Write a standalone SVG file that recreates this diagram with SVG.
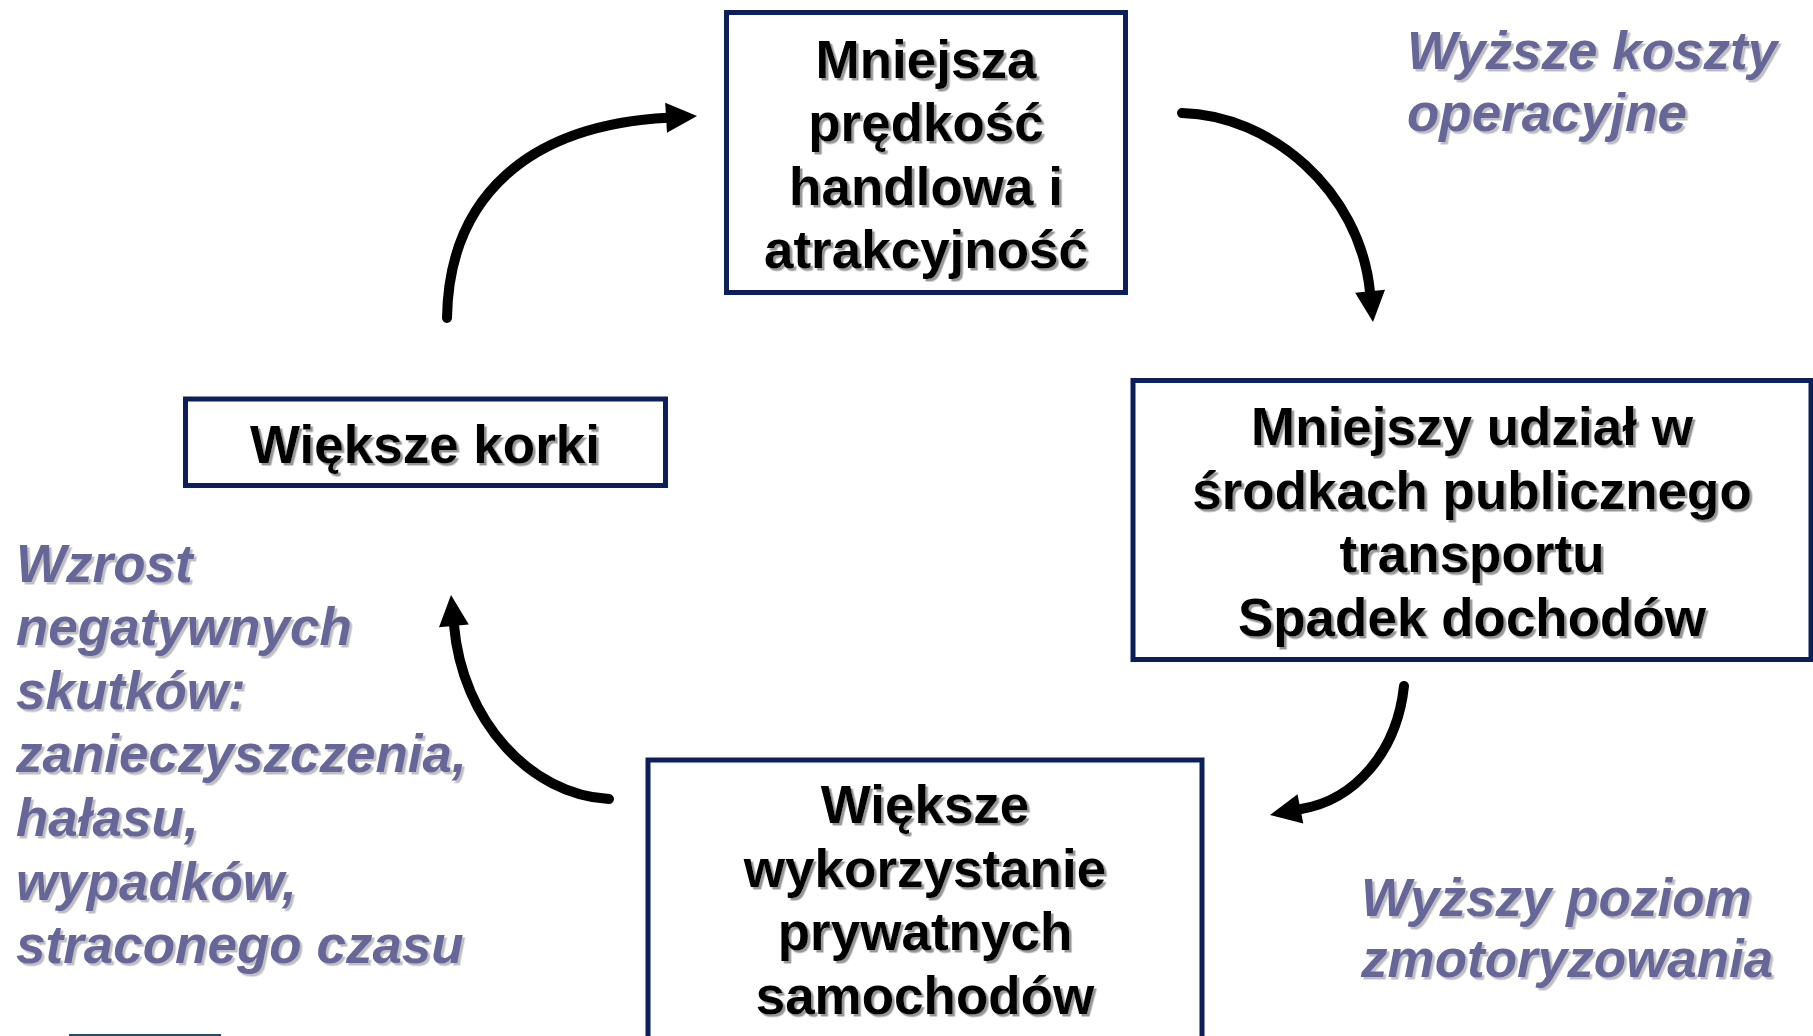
<svg xmlns="http://www.w3.org/2000/svg" width="1813" height="1036" viewBox="0 0 1813 1036">
  <defs>
    <filter id="shB" x="-5%" y="-20%" width="115%" height="150%">
      <feDropShadow dx="2.5" dy="2.5" stdDeviation="0.6" flood-color="#8c8c8c" flood-opacity="0.9"/>
    </filter>
    <filter id="shI" x="-5%" y="-20%" width="115%" height="150%">
      <feDropShadow dx="2.5" dy="2.5" stdDeviation="0.6" flood-color="#b8b8b8" flood-opacity="0.9"/>
    </filter>
  </defs>
  <style>
    .box { fill: #ffffff; stroke: #0c1f5a; stroke-width: 5; }
    .bt { font-family: "Liberation Sans", Arial, sans-serif; font-weight: bold; font-size: 53px; fill: #000000; text-anchor: middle; filter: url(#shB); }
    .it { font-family: "Liberation Sans", Arial, sans-serif; font-weight: bold; font-style: italic; font-size: 53px; fill: #666699; filter: url(#shI); }
    .conn { fill: none; stroke: #000000; stroke-width: 10; stroke-linecap: round; }
    .head { fill: #000000; }
  </style>
  <rect width="1813" height="1036" fill="#ffffff"/>

  <g id="node-top">
    <rect class="box" x="726.5" y="12.5" width="399" height="280"/>
    <text class="bt" x="926" y="77.5">Mniejsza</text>
    <text class="bt" x="926" y="141">prędkość</text>
    <text class="bt" x="926" y="204.7">handlowa i</text>
    <text class="bt" x="926" y="268.3">atrakcyjność</text>
  </g>

  <g id="node-right">
    <rect class="box" x="1133" y="380.5" width="678" height="279"/>
    <text class="bt" x="1472" y="445">Mniejszy udział w</text>
    <text class="bt" x="1472" y="509">środkach publicznego</text>
    <text class="bt" x="1472" y="572">transportu</text>
    <text class="bt" x="1472" y="636">Spadek dochodów</text>
  </g>

  <g id="node-bottom">
    <rect class="box" x="648" y="760" width="554" height="300"/>
    <text class="bt" x="925" y="823">Większe</text>
    <text class="bt" x="925" y="887">wykorzystanie</text>
    <text class="bt" x="925" y="950">prywatnych</text>
    <text class="bt" x="925" y="1014">samochodów</text>
  </g>

  <g id="node-left">
    <rect class="box" x="185.5" y="399" width="480" height="86.5"/>
    <text class="bt" x="425" y="462.5">Większe korki</text>
  </g>

  <g id="note-costs">
    <text class="it" x="1407" y="69.4">Wyższe koszty</text>
    <text class="it" x="1407" y="130.7">operacyjne</text>
  </g>

  <g id="note-motor">
    <text class="it" x="1361" y="915.7">Wyższy poziom</text>
    <text class="it" x="1361" y="977">zmotoryzowania</text>
  </g>

  <g id="note-effects">
    <text class="it" x="16" y="581.6">Wzrost</text>
    <text class="it" x="16" y="645.2">negatywnych</text>
    <text class="it" x="16" y="708.8">skutków:</text>
    <text class="it" x="16" y="772.4">zanieczyszczenia,</text>
    <text class="it" x="16" y="836">hałasu,</text>
    <text class="it" x="16" y="899.6">wypadków,</text>
    <text class="it" x="16" y="963.2">straconego czasu</text>
  </g>

  <g id="connectors">
    <path class="conn" d="M447,318 C449,195 530,125 668,117.8"/>
    <polygon class="head" points="697,116 665.2,102.8 667,132.8"/>

    <path class="conn" d="M1182,113 C1270,115 1360,190 1370,292"/>
    <polygon class="head" points="1373,322 1385,289.7 1355.1,292.7"/>

    <path class="conn" d="M1404,686 C1397,752 1355,800 1301,809"/>
    <polygon class="head" points="1270,815 1303.3,823.6 1297.5,794.2"/>

    <path class="conn" d="M609,799 C530,795 462,720 454,625"/>
    <polygon class="head" points="451,595 468.8,624.5 439,627.3"/>
  </g>

  <rect x="69" y="1034" width="152" height="2" fill="#1f4e6e"/>
</svg>
